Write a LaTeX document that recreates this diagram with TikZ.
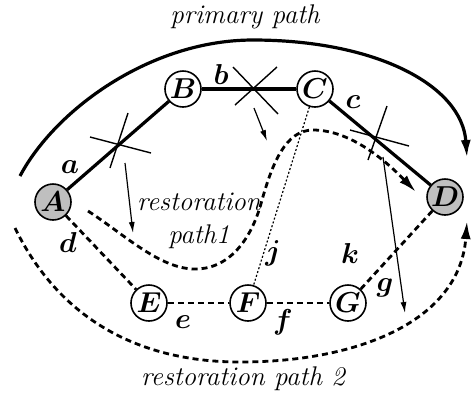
\documentclass[tikz,border=0pt]{standalone}
\usepackage{amsmath,amssymb}
\usepackage{tikz}
\usetikzlibrary{positioning,arrows.meta}

\begin{document}
\begin{tikzpicture}[
    x=0.5pt, y=-0.5pt,
    site/.style={draw, circle, line width=0.8pt, fill=white,
                 minimum size=18pt, inner sep=0pt,
                 font=\fontsize{15.5}{17}\selectfont},
    endsite/.style={site, fill=gray!50},
    link/.style={line width=1.6pt},
    spare/.style={line width=1.4pt, dash pattern=on 3pt off 2pt},
    probe/.style={line width=0.6pt, dash pattern=on 1pt off 1pt},
    cut/.style={line width=0.7pt},
    hint/.style={-{Latex[length=5.5pt,width=3pt]}, line width=0.6pt},
    route/.style={line width=1.6pt, -{Latex[length=9pt,width=5pt]}},
    lbl/.style={font=\fontsize{15.5}{17}\selectfont, inner sep=1pt},
    caption/.style={font=\fontsize{13.5}{16.5}\selectfont\itshape, align=center}
]
\useasboundingbox (0,0) rectangle (471,393);

% Network sites
\node[endsite] (A) at (53,202) {$\boldsymbol{A}$};
\node[site] (B) at (183,89) {$\boldsymbol{B}$};
\node[site] (C) at (315,89) {$\boldsymbol{C}$};
\node[endsite] (D) at (445,197) {$\boldsymbol{D}$};
\node[site] (E) at (149,303) {$\boldsymbol{E}$};
\node[site] (F) at (248,303) {$\boldsymbol{F}$};
\node[site] (G) at (348,303) {$\boldsymbol{G}$};

% Primary links
\draw[link] (A) -- (B);
\draw[link] (B) -- (C);
\draw[link] (C) -- (D);

% Spare links
\draw[spare] (A) -- (E);
\draw[spare] (E) -- (F);
\draw[spare] (F) -- (G);
\draw[spare] (G) -- (D);
\draw[probe] (C) -- (F);

% Link labels
\node[lbl] (la) at (70,167) {$\boldsymbol{a}$};
\node[lbl] (lb) at (221,74) {$\boldsymbol{b}$};
\node[lbl] (lc) at (353,102) {$\boldsymbol{c}$};
\node[lbl] (ld) at (68,242) {$\boldsymbol{d}$};
\node[lbl] (le) at (183,322) {$\boldsymbol{e}$};
\node[lbl] (lf) at (283,322) {$\boldsymbol{f}$};
\node[lbl] (lg) at (385,288) {$\boldsymbol{g}$};
\node[lbl] (lk) at (350,253) {$\boldsymbol{k}$};
\node[lbl] (lj) at (273,253) {$\boldsymbol{j}$};

% Failures
\draw[cut] (90,137) -- (151,153);
\draw[cut] (110,168) -- (128,113);
\draw[cut] (233,67) -- (278,114);
\draw[cut] (235,105) -- (277,67);
\draw[cut] (350,130) -- (409,146);
\draw[cut] (368,160) -- (387,106);

% Failure hints
\coordinate (h1s) at (125,163);
\coordinate (h1e) at (133,233);
\coordinate (h2s) at (254,108);
\coordinate (h2e) at (267,141);
\coordinate (h3s) at (383,157);
\coordinate (h3e) at (405,313);
\draw[hint] (h1s) -- (h1e);
\draw[hint] (h2s) -- (h2e);
\draw[hint] (h3s) -- (h3e);

% Paths
\coordinate (p0s) at (20,176);
\coordinate (p0e) at (467,158);
\draw[route] (p0s) .. controls (55,110) and (150,40) .. (253,40)
    .. controls (375,40) and (462,85) .. (p0e);

\coordinate (p1s) at (88,211);
\coordinate (p1e) at (416,192);
\draw[route, line width=1.4pt, dash pattern=on 3pt off 2pt]
    (p1s) .. controls (125,235) and (160,269) .. (195,269)
    .. controls (232,269) and (253,235) .. (262,200)
    .. controls (272,165) and (285,130) .. (313,130)
    .. controls (350,130) and (385,160) .. (p1e);

\coordinate (p2s) at (15,228);
\coordinate (p2e) at (467,221);
\draw[route, line width=1.4pt, dash pattern=on 3pt off 2pt]
    (p2s) .. controls (60,320) and (140,362) .. (240,362)
    .. controls (360,362) and (460,320) .. (p2e);

% Path names
\node[caption] (primary) at (245,17) {primary path};
\node[caption] (rest1) at (199,221) {restoration\\path1};
\node[caption] (rest2) at (243,379) {restoration path 2};

\end{tikzpicture}
\end{document}
